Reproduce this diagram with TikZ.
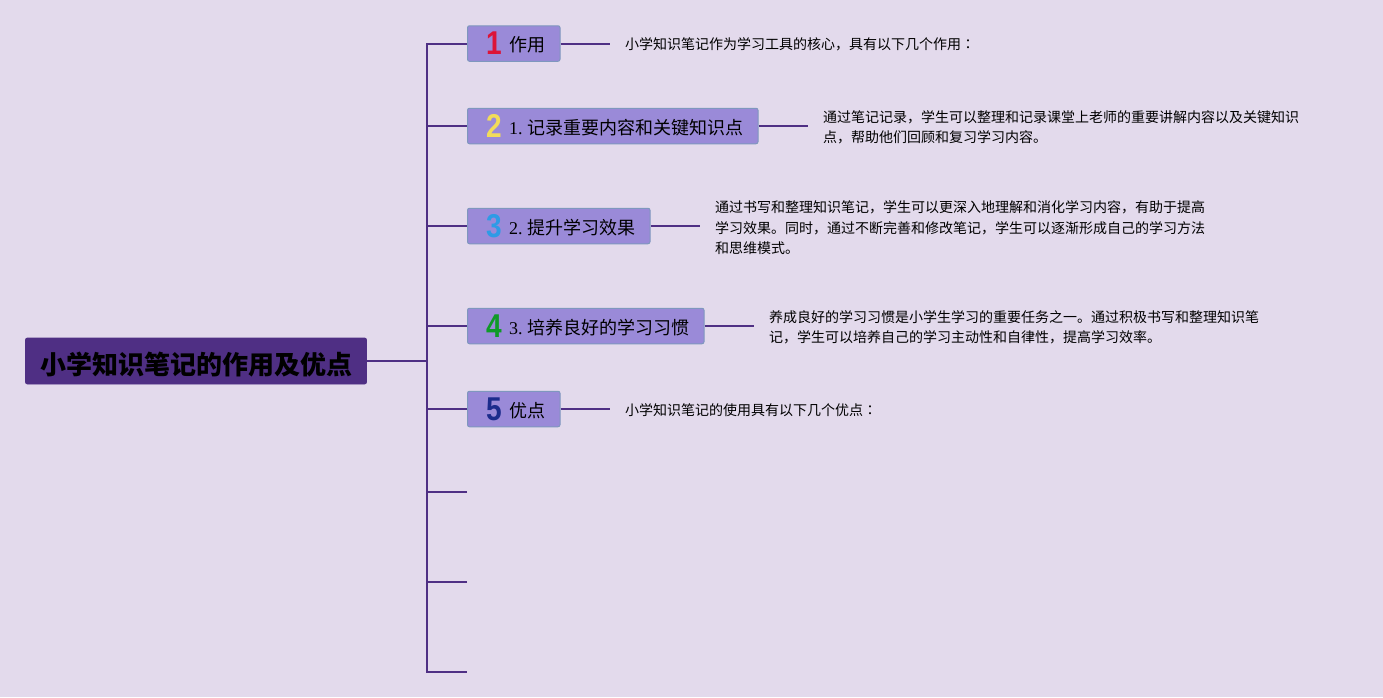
\documentclass[tikz,border=0pt]{standalone}
\usepackage{fontspec}
\setmainfont{Liberation Serif}
\newfontfamily\cjk{Noto Sans CJK SC}
\newfontfamily\cjkcolon{Noto Sans CJK TC}
\newfontfamily\numfont{Liberation Sans}
\newcommand{\numglyph}[1]{\scalebox{0.85}[1]{#1}}
\definecolor{bgc}{HTML}{E3DAEC}
\definecolor{topicfill}{HTML}{9A8AD8}
\definecolor{topicline}{HTML}{7F97BE}
\definecolor{rootfill}{HTML}{4F2F84}
\definecolor{linkc}{HTML}{4F2F84}
\definecolor{noA}{HTML}{DC1438}
\definecolor{noB}{HTML}{F2DC5A}
\definecolor{noC}{HTML}{2E9BE6}
\definecolor{noD}{HTML}{0F9A28}
\definecolor{noE}{HTML}{1C2C8C}
\tikzset{
  x=1pt,y=-1pt,
  rootbox/.style={draw=rootfill,fill=rootfill,rounded corners=2pt,line width=0.8pt,minimum width=341pt,minimum height=46pt,inner sep=0pt,text=black,font=\cjk\bfseries\fontsize{26}{30}\selectfont},
  topicbox/.style={draw=topicline,fill=topicfill,rounded corners=2pt,line width=1pt,minimum height=35.5pt,inner sep=0pt,anchor=west},
  topictext/.style={anchor=west,inner sep=0pt,text=black,font=\fontsize{18}{22}\selectfont},
  notetext/.style={anchor=west,inner sep=0pt,align=left,text=black,font=\cjk\fontsize{14}{20.5}\selectfont},
  numtext/.style={inner sep=0pt,font=\numfont\bfseries\fontsize{33}{36}\selectfont},
  link/.style={draw=linkc,line width=2pt},
}
\begin{document}
\begin{tikzpicture}
\useasboundingbox[fill=bgc] (0,0) rectangle (1383,697);
% nodes
\node[rootbox,text depth=0pt] (root) at (196,361) {\raisebox{-3.5pt}{小学知识笔记的作用及优点}};
\coordinate (trunk) at (427,361);
\node[topicbox,minimum width=92.5pt] (t1) at (467,43.5) {};
\node[topicbox,minimum width=290.5pt] (t2) at (467,126) {};
\node[topicbox,minimum width=182.5pt] (t3) at (467,226) {};
\node[topicbox,minimum width=236.5pt] (t4) at (467,326) {};
\node[topicbox,minimum width=92.5pt] (t5) at (467,409) {};
\node[numtext,text=noA] (n1) at (494,43) {\numglyph{1}};
\node[numtext,text=noB] (n2) at (494,126) {\numglyph{2}};
\node[numtext,text=noC] (n3) at (494,226) {\numglyph{3}};
\node[numtext,text=noD] (n4) at (494,326) {\numglyph{4}};
\node[numtext,text=noE] (n5) at (494,409) {\numglyph{5}};
\node[topictext] (l1) at (509,45) {\cjk 作用};
\node[topictext] (l2) at (509,128) {1.\hspace{-1pt} {\cjk 记录重要内容和关键知识点}};
\node[topictext] (l3) at (509,228) {2.\hspace{-1pt} {\cjk 提升学习效果}};
\node[topictext] (l4) at (509,328) {3.\hspace{-1pt} {\cjk 培养良好的学习习惯}};
\node[topictext] (l5) at (509,411) {\cjk 优点};
\node[notetext] (d1) at (625,44) {小学知识笔记作为学习工具的核心，具有以下几个作用{\cjkcolon ：}};
\node[notetext] (d2) at (823,127.5) {通过笔记记录，学生可以整理和记录课堂上老师的重要讲解内容以及关键知识\\点，帮助他们回顾和复习学习内容。};
\node[notetext] (d3) at (715,228) {通过书写和整理知识笔记，学生可以更深入地理解和消化学习内容，有助于提高\\学习效果。同时，通过不断完善和修改笔记，学生可以逐渐形成自己的学习方法\\和思维模式。};
\node[notetext] (d4) at (769,327.5) {养成良好的学习习惯是小学生学习的重要任务之一。通过积极书写和整理知识笔\\记，学生可以培养自己的学习主动性和自律性，提高学习效率。};
\node[notetext] (d5) at (625,410) {小学知识笔记的使用具有以下几个优点{\cjkcolon ：}};
% free ends
\coordinate (e6) at (467,492);
\coordinate (e7) at (467,582);
\coordinate (e8) at (467,672);
\coordinate (s1) at (610,43.5);
\coordinate (s2) at (808,126);
\coordinate (s3) at (700,226);
\coordinate (s4) at (754,326);
\coordinate (s5) at (610,409);
% connectors
\draw[link] (root.east) -- (trunk);
\draw[link] (t1.west) -| (e8 -| trunk) -- (e8);
\draw[link] (t2.west) -- (t2.west -| trunk);
\draw[link] (t3.west) -- (t3.west -| trunk);
\draw[link] (t4.west) -- (t4.west -| trunk);
\draw[link] (t5.west) -- (t5.west -| trunk);
\draw[link] (e6) -- (e6 -| trunk);
\draw[link] (e7) -- (e7 -| trunk);
\foreach \i in {1,...,5} {\draw[link] (t\i.east) -- (s\i);}
\end{tikzpicture}
\end{document}
